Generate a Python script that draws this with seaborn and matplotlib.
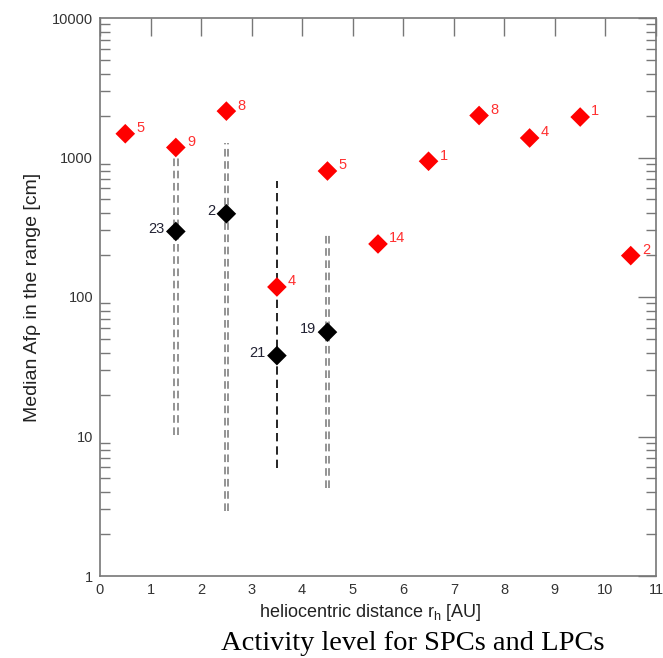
import matplotlib
matplotlib.use("Agg")
import matplotlib.pyplot as plt
import seaborn as sns
import pandas as pd
import numpy as np

# Red series (LPCs)
red_x = [0.5, 1.5, 2.5, 3.5, 4.5, 5.5, 6.5, 7.5, 8.5, 9.5, 10.5]
red_y = [1480, 1180, 2150, 118, 800, 240, 940, 2000, 1380, 1950, 198]
red_n = ["5", "9", "8", "4", "5", "14", "1", "8", "4", "1", "2"]

# Black series (SPCs) with ranges
blk_x = [1.5, 2.5, 3.5, 4.5]
blk_y = [295, 395, 38, 56]
blk_lo = [10.3, 2.9, 5.9, 4.3]
blk_hi = [1030, 1260, 680, 290]
blk_n = ["23", "2", "21", "19"]

sns.set_style("white")
plt.rcParams['font.family'] = ['Liberation Sans', 'DejaVu Sans']

fig = plt.figure(figsize=(6.63, 6.58), dpi=100)
ax = fig.add_axes([100/663, 1-576/658, 556/663, 558/658])

gray = "#777777"
# range lines
styles = ["double", "double", "single", "double"]
for x, lo, hi, st in zip(blk_x, blk_lo, blk_hi, styles):
    if st == "double":
        for dx in (-0.035, 0.035):
            ax.vlines(x + dx, lo, hi, colors=gray, linestyles=(0, (5, 3)), linewidth=1.1, zorder=1)
    else:
        ax.vlines(x, lo, hi, colors="black", linestyles=(0, (5, 3)), linewidth=1.2, zorder=1)

red_df = pd.DataFrame({"x": red_x, "y": red_y})
blk_df = pd.DataFrame({"x": blk_x, "y": blk_y})
sns.scatterplot(data=red_df, x="x", y="y", marker="D", s=100, color="#ff0000",
                edgecolor="none", ax=ax, zorder=3)
sns.scatterplot(data=blk_df, x="x", y="y", marker="D", s=100, color="black",
                edgecolor="none", ax=ax, zorder=3)

for x, y, n in zip(red_x, red_y, red_n):
    ax.annotate(n, (x, y), xytext=(8, 4), textcoords="offset points",
                color="#ff3030", fontsize=10.5, ha="left", va="center")
for x, y, n in zip(blk_x, blk_y, blk_n):
    ax.annotate(n, (x, y), xytext=(-8, 2), textcoords="offset points",
                color="#222233", fontsize=10.5, ha="right", va="center")

ax.set_yscale("log")
ax.set_xlim(0, 11)
ax.set_ylim(1, 10000)
ax.set_xticks(range(0, 12))
ax.set_yticks([1, 10, 100, 1000, 10000])
ax.set_yticklabels(["1", "10", "100", "1000", "10000"])
ax.yaxis.set_minor_locator(matplotlib.ticker.LogLocator(base=10, subs=np.arange(2, 10)))
ax.yaxis.set_minor_formatter(matplotlib.ticker.NullFormatter())

ax.tick_params(axis="both", which="major", direction="in", length=13, width=1,
               color=gray, labelsize=10.5, labelcolor="#333333", top=True, right=True, pad=5)
ax.tick_params(axis="y", which="minor", direction="in", length=7, width=1,
               color=gray, left=True, right=True)
for sp in ax.spines.values():
    sp.set_color(gray)
    sp.set_linewidth(1.2)

ax.set_xlabel(r"heliocentric distance r$_{\mathregular{h}}$ [AU]", fontsize=13, color="#222222")
ax.xaxis.set_label_coords(0.486, -0.047)
ax.set_ylabel("Median Afρ in the range [cm]", fontsize=14, color="#222222", labelpad=8)

fig.text(413/663, 1-644/658, "Activity level for SPCs and LPCs",
         family="Liberation Serif", fontsize=20.5, ha="center", va="center", color="black")

fig.savefig("out.png", dpi=100)
